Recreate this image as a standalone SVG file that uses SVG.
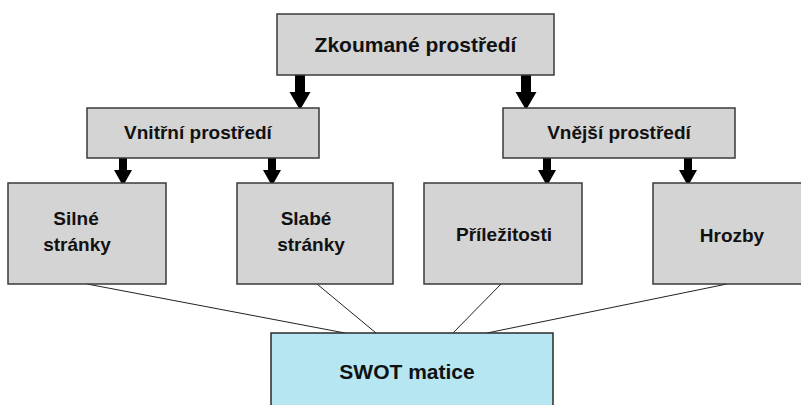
<svg xmlns="http://www.w3.org/2000/svg" width="801" height="405" viewBox="0 0 801 405">
  <style>
    .box { fill: #d4d4d4; stroke: #3a3a3a; stroke-width: 1.5; }
    .swot { fill: #b5e6f2; stroke: #2a2a2a; stroke-width: 1.5; }
    .lbl { font-family: "Liberation Sans", Arial, sans-serif; font-weight: bold; fill: #111; text-anchor: middle; }
    .big { font-size: 21px; }
    .mid { font-size: 19px; }
    .link { stroke: #222; stroke-width: 1; fill: none; }
    .arrow { fill: #000; }
  </style>

  <rect width="801" height="405" fill="#ffffff"/>

  <g id="connectors">
    <!-- block arrows: level 0 to level 1 -->
    <path class="arrow" d="M295,75 H305 V92 H310.5 L300,110 L289.5,92 H295 Z"/>
    <path class="arrow" d="M521,75 H531 V92 H536.5 L526,110 L515.5,92 H521 Z"/>
    <!-- block arrows: level 1 to level 2 -->
    <path class="arrow" d="M119,158 H127 V170 H132 L123,186 L114,170 H119 Z"/>
    <path class="arrow" d="M268,158 H276 V170 H281 L272,186 L263,170 H268 Z"/>
    <path class="arrow" d="M543,158 H551 V170 H556 L547,186 L538,170 H543 Z"/>
    <path class="arrow" d="M684,158 H692 V170 H697 L688,186 L679,170 H684 Z"/>
    <!-- thin lines into the SWOT matrix -->
    <line class="link" x1="87" y1="284" x2="345" y2="333"/>
    <line class="link" x1="317" y1="284" x2="376" y2="333"/>
    <line class="link" x1="501" y1="284" x2="450" y2="336"/>
    <line class="link" x1="727" y1="284" x2="487" y2="333"/>
  </g>

  <g id="zkoumane">
    <rect class="box" x="277" y="14" width="277" height="61"/>
    <text class="lbl big" x="415.5" y="52">Zkoumané prostředí</text>
  </g>

  <g id="vnitrni">
    <rect class="box" x="87" y="108" width="232" height="50"/>
    <text class="lbl mid" x="198" y="139">Vnitřní prostředí</text>
  </g>

  <g id="vnejsi">
    <rect class="box" x="503" y="108" width="232" height="50"/>
    <text class="lbl mid" x="619" y="139">Vnější prostředí</text>
  </g>

  <g id="silne">
    <rect class="box" x="8" y="183" width="158" height="101"/>
    <text class="lbl mid" x="76" y="225">Silné</text>
    <text class="lbl mid" x="77" y="251">stránky</text>
  </g>

  <g id="slabe">
    <rect class="box" x="237" y="183" width="156" height="101"/>
    <text class="lbl mid" x="306" y="225">Slabé</text>
    <text class="lbl mid" x="311" y="251">stránky</text>
  </g>

  <g id="prilezitosti">
    <rect class="box" x="424" y="183" width="158" height="101"/>
    <text class="lbl mid" x="504" y="241">Příležitosti</text>
  </g>

  <g id="hrozby">
    <rect class="box" x="653" y="183" width="160" height="101"/>
    <text class="lbl mid" x="732" y="242">Hrozby</text>
  </g>

  <g id="swot">
    <rect class="swot" x="271" y="333" width="282" height="80"/>
    <text class="lbl big" x="407" y="379">SWOT matice</text>
  </g>
</svg>
